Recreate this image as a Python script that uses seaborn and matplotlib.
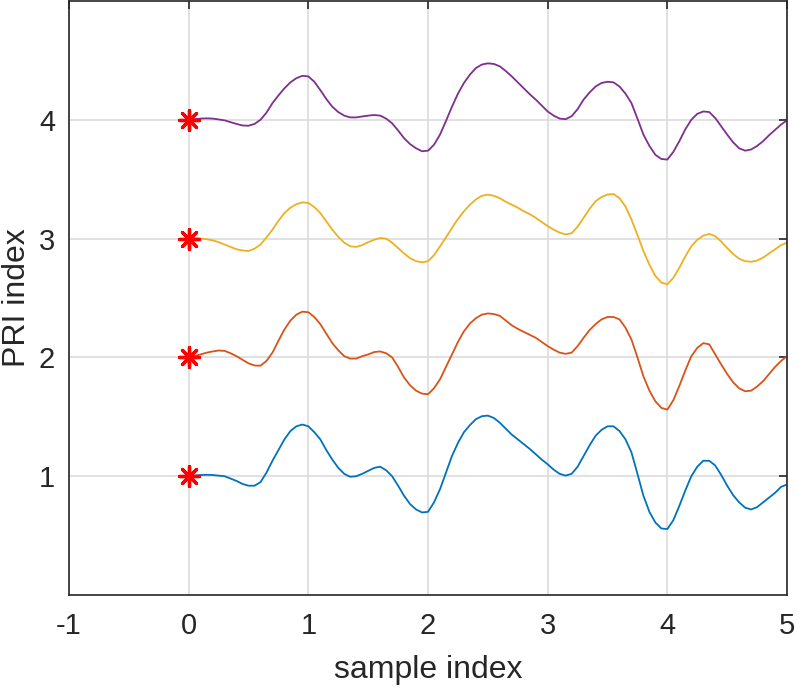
import pandas as pd
import matplotlib
matplotlib.use("Agg")
import matplotlib.pyplot as plt
import seaborn as sns

# sample positions (step 0.05)
sample_x = [0.00, 0.05, 0.10, 0.15, 0.20, 0.25, 0.30, 0.35, 0.40, 0.45,
            0.50, 0.55, 0.60, 0.65, 0.70, 0.75, 0.80, 0.85, 0.90, 0.95,
            1.00, 1.05, 1.10, 1.15, 1.20, 1.25, 1.30, 1.35, 1.40, 1.45,
            1.50, 1.55, 1.60, 1.65, 1.70, 1.75, 1.80, 1.85, 1.90, 1.95,
            2.00, 2.05, 2.10, 2.15, 2.20, 2.25, 2.30, 2.35, 2.40, 2.45,
            2.50, 2.55, 2.60, 2.65, 2.70, 2.75, 2.80, 2.85, 2.90, 2.95,
            3.00, 3.05, 3.10, 3.15, 3.20, 3.25, 3.30, 3.35, 3.40, 3.45,
            3.50, 3.55, 3.60, 3.65, 3.70, 3.75, 3.80, 3.85, 3.90, 3.95,
            4.00, 4.05, 4.10, 4.15, 4.20, 4.25, 4.30, 4.35, 4.40, 4.45,
            4.50, 4.55, 4.60, 4.65, 4.70, 4.75, 4.80, 4.85, 4.90, 4.95, 5.00]

# deviation of each PRI trace from its index
pri1 = [0.0, 0.005, 0.01, 0.012, 0.01, 0.005, 0.0, -0.02, -0.04, -0.065,
        -0.08, -0.08, -0.05, 0.03, 0.13, 0.22, 0.31, 0.38, 0.42, 0.435,
        0.42, 0.37, 0.31, 0.22, 0.14, 0.07, 0.02, -0.005, 0.0, 0.02,
        0.045, 0.07, 0.08, 0.05, 0.0, -0.08, -0.165, -0.235, -0.28, -0.305,
        -0.30, -0.22, -0.11, 0.03, 0.17, 0.28, 0.37, 0.43, 0.48, 0.505,
        0.51, 0.49, 0.45, 0.40, 0.35, 0.31, 0.27, 0.23, 0.185, 0.14,
        0.10, 0.055, 0.02, 0.005, 0.02, 0.08, 0.17, 0.26, 0.34, 0.39,
        0.42, 0.42, 0.38, 0.31, 0.20, 0.02, -0.165, -0.30, -0.39, -0.44,
        -0.445, -0.37, -0.25, -0.12, 0.0, 0.08, 0.13, 0.13, 0.09, 0.01,
        -0.08, -0.16, -0.22, -0.265, -0.28, -0.26, -0.22, -0.18, -0.14, -0.09, -0.07]
pri2 = [0.0, 0.012, 0.025, 0.04, 0.05, 0.058, 0.055, 0.035, 0.01, -0.02,
        -0.05, -0.068, -0.07, -0.03, 0.04, 0.14, 0.235, 0.31, 0.36, 0.385,
        0.38, 0.34, 0.28, 0.20, 0.12, 0.06, 0.01, -0.01, -0.01, 0.01,
        0.025, 0.045, 0.05, 0.035, 0.0, -0.08, -0.17, -0.235, -0.28, -0.305,
        -0.31, -0.26, -0.185, -0.08, 0.025, 0.13, 0.22, 0.285, 0.33, 0.36,
        0.37, 0.365, 0.35, 0.31, 0.27, 0.24, 0.215, 0.19, 0.165, 0.13,
        0.095, 0.065, 0.04, 0.03, 0.04, 0.095, 0.165, 0.23, 0.28, 0.32,
        0.34, 0.34, 0.32, 0.25, 0.15, 0.0, -0.16, -0.28, -0.37, -0.425,
        -0.44, -0.36, -0.24, -0.11, 0.01, 0.08, 0.12, 0.11, 0.025, -0.06,
        -0.14, -0.21, -0.26, -0.285, -0.28, -0.245, -0.20, -0.14, -0.08, -0.03, 0.01]
pri3 = [0.0, 0.0, 0.0, -0.005, -0.015, -0.03, -0.05, -0.07, -0.09, -0.10,
        -0.105, -0.085, -0.05, 0.01, 0.075, 0.15, 0.215, 0.26, 0.29, 0.305,
        0.30, 0.265, 0.215, 0.145, 0.075, 0.015, -0.035, -0.065, -0.07, -0.055,
        -0.03, -0.01, 0.005, 0.0, -0.035, -0.08, -0.125, -0.165, -0.19, -0.20,
        -0.19, -0.14, -0.065, 0.01, 0.09, 0.165, 0.23, 0.285, 0.33, 0.36,
        0.37, 0.36, 0.34, 0.31, 0.285, 0.26, 0.23, 0.205, 0.175, 0.14,
        0.105, 0.075, 0.05, 0.035, 0.045, 0.10, 0.175, 0.25, 0.315, 0.35,
        0.37, 0.375, 0.34, 0.27, 0.16, 0.03, -0.105, -0.22, -0.315, -0.37,
        -0.385, -0.33, -0.245, -0.15, -0.065, -0.01, 0.025, 0.04, 0.02, -0.025,
        -0.08, -0.13, -0.17, -0.19, -0.195, -0.185, -0.16, -0.125, -0.09, -0.055, -0.035]
pri4 = [0.0, 0.005, 0.01, 0.012, 0.01, 0.003, -0.005, -0.02, -0.035, -0.048,
        -0.05, -0.035, 0.0, 0.06, 0.14, 0.205, 0.265, 0.315, 0.35, 0.37,
        0.365, 0.32, 0.25, 0.175, 0.11, 0.065, 0.035, 0.02, 0.02, 0.028,
        0.035, 0.04, 0.035, 0.01, -0.03, -0.09, -0.155, -0.205, -0.24, -0.265,
        -0.26, -0.21, -0.125, -0.01, 0.11, 0.22, 0.31, 0.38, 0.435, 0.465,
        0.475, 0.47, 0.45, 0.41, 0.365, 0.315, 0.265, 0.215, 0.17, 0.12,
        0.07, 0.035, 0.01, 0.005, 0.03, 0.09, 0.17, 0.23, 0.28, 0.31,
        0.32, 0.315, 0.28, 0.22, 0.14, 0.01, -0.125, -0.22, -0.295, -0.33,
        -0.335, -0.27, -0.18, -0.08, 0.0, 0.05, 0.07, 0.065, 0.015, -0.055,
        -0.125, -0.19, -0.24, -0.26, -0.25, -0.22, -0.18, -0.13, -0.085, -0.04, -0.005]

pri_index = [1, 2, 3, 4]
colors = ["#0072BD", "#D95319", "#EDB120", "#7E2F8E"]
xticks = [-1, 0, 1, 2, 3, 4, 5]
yticks = [1, 2, 3, 4]

rows = []
for idx, dev in zip(pri_index, [pri1, pri2, pri3, pri4]):
    for xv, dv in zip(sample_x, dev):
        rows.append({"x": xv, "y": idx + dv, "pri": str(idx)})
df = pd.DataFrame(rows)

sns.set_style("white")
plt.rcParams['font.family'] = ['Liberation Sans', 'DejaVu Sans']

fig = plt.figure(figsize=(7.97, 6.93), dpi=100)
ax = fig.add_axes([0.0866, 0.1414, 0.9009, 0.8572])

sns.lineplot(data=df, x="x", y="y", hue="pri", palette=colors,
             linewidth=1.3, legend=False, ax=ax, sort=False)

ax.scatter([0] * len(pri_index), pri_index, marker=(8, 2, 0), s=200,
           color="red", linewidths=2.4, zorder=5)

ax.set_xlim(-1, 5)
ax.set_ylim(0, 5)
ax.set_xticks(xticks)
ax.set_yticks(yticks)
ax.set_xticklabels([str(t) for t in xticks])
ax.grid(True, color="#dcdcdc", linewidth=1.2)
ax.set_axisbelow(True)
for s in ax.spines.values():
    s.set_color("#262626")
    s.set_linewidth(1.2)
ax.tick_params(direction="in", length=6, width=1.2, colors="#262626",
               labelsize=21, top=True, right=True)
ax.tick_params(axis="x", pad=12)
ax.tick_params(axis="y", pad=10)
ax.set_xlabel("sample index", fontsize=23, color="#262626", labelpad=11)
ax.set_ylabel("PRI index", fontsize=23, color="#262626", labelpad=5)

fig.savefig("out.png", dpi=100)
